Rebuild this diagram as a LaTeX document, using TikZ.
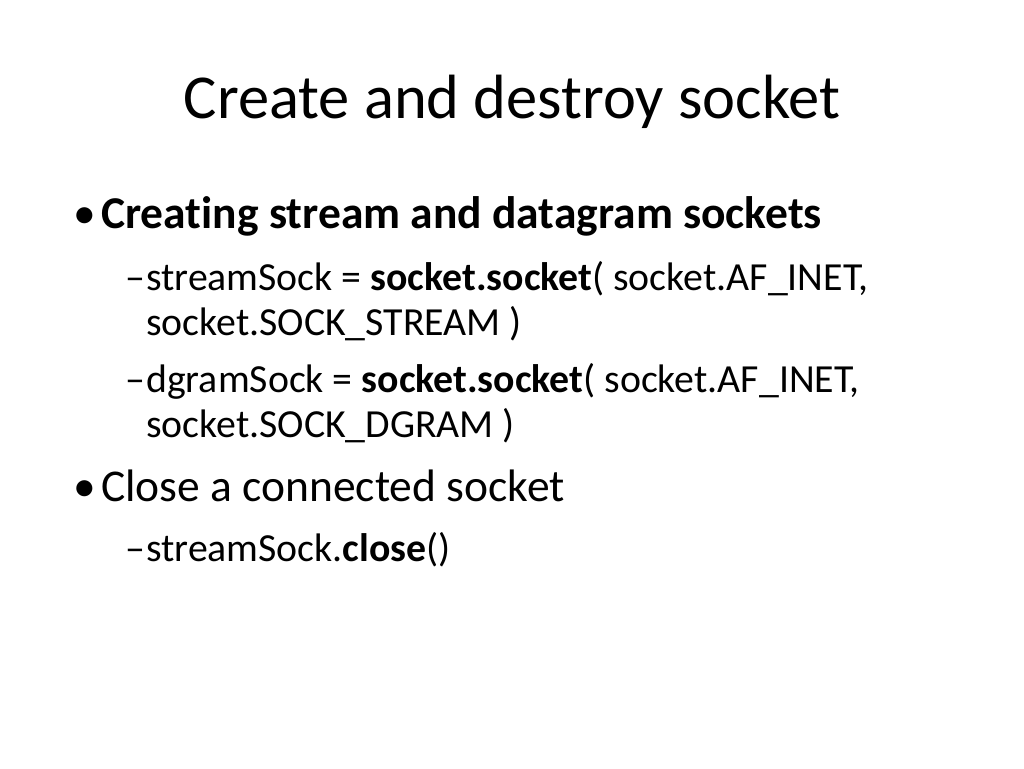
\documentclass[tikz,border=0pt]{standalone}
\usepackage{fontspec}
\setmainfont[Ligatures={NoCommon}]{Carlito}
\usepackage{tikz}
\tikzset{
  line/.style={anchor=base west, inner sep=0pt},
  lvlone/.style={line, font=\fontsize{45.5}{50}\selectfont},
  lvltwo/.style={line, font=\fontsize{39.8}{44}\selectfont},
}
\begin{document}
\begin{tikzpicture}[x=1pt,y=-1pt]
            \useasboundingbox (0,0) rectangle (1024,768);
            \node[inner sep=0pt, anchor=base, font=\fontsize{62.5}{68}\selectfont] (title) at (512,118) {Create and destroy socket};

            \node[lvlone] (b1) at (73,228) {\textbullet};
            \node[lvlone, font=\fontsize{45.5}{50}\selectfont\bfseries] (t1) at (101,228) {Creating stream and datagram sockets};

            \node[lvltwo] (d1) at (125,290) {--};
            \node[lvltwo] (t2) at (146,290) {streamSock = \textbf{socket.socket}( socket.AF\_INET,};
            \node[lvltwo] (t2b) at (146,335) {socket.SOCK\_STREAM )};

            \node[lvltwo] (d2) at (125,392) {--};
            \node[lvltwo] (t3) at (146,392) {dgramSock = \textbf{socket.socket}( socket.AF\_INET,};
            \node[lvltwo] (t3b) at (146,437) {socket.SOCK\_DGRAM )};

            \node[lvlone] (b2) at (73,501) {\textbullet};
            \node[lvlone] (t4) at (101,501) {Close a connected socket};

            \node[lvltwo] (d3) at (125,561) {--};
            \node[lvltwo] (t5) at (146,561) {streamSock.\textbf{close}()};
        \end{tikzpicture}
\end{document}
